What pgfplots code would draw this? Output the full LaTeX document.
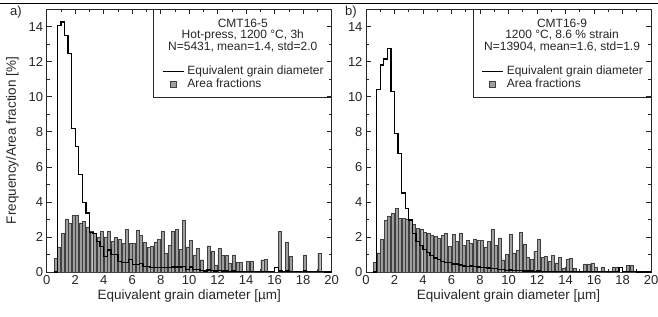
\documentclass[border=0pt]{standalone}
\usepackage{fontspec}
\setmainfont{Liberation Sans}
\usepackage{pgfplots}
\usepackage{pgfplotstable}
\pgfplotsset{compat=1.18}

\pgfplotstableread{
x area freq
0.50 0.76 0
0.75 1.43 14.05
1.00 2.19 14.25
1.25 3.03 13.5
1.50 2.76 12.45
1.75 3.22 8.2
2.00 3.22 7.15
2.25 2.80 5.55
2.50 2.90 3.98
2.75 2.57 3.37
3.00 2.35 2.25
3.25 2.20 2.2
3.50 2.00 1.75
3.75 2.30 1.45
4.00 2.00 0.9
4.25 2.30 1.25
4.50 1.75 1.0
4.75 2.00 1.0
5.00 1.85 0.6
5.25 1.65 0.55
5.50 2.45 0.55
5.75 1.65 0.7
6.00 1.65 0.42
6.25 2.40 0.42
6.50 2.10 0.48
6.75 1.70 0.33
7.00 1.40 0.33
7.25 1.45 0.24
7.50 1.72 0.24
7.75 1.85 0.24
8.00 2.33 0.24
8.25 1.05 0.24
8.50 1.52 0.24
8.75 2.33 0.28
9.00 2.42 0.28
9.25 1.28 0.28
9.50 2.97 0.33
9.75 1.43 0.13
10.00 1.79 0.28
10.25 0.93 0.13
10.50 1.33 0.15
10.75 0.70 0.10
11.00 0 0.05
11.25 1.50 0.12
11.50 1.20 0.08
11.75 0.40 0.05
12.00 1.33 0.08
12.25 0.93 0.05
12.50 0.93 0.05
12.75 0.50 0.03
13.00 0.98 0.05
13.25 0.55 0.03
13.50 0.55 0.03
13.75 0 0.02
14.00 0.62 0.03
14.25 0.62 0.03
14.50 0 0.02
14.75 0 0.02
15.00 0.70 0.03
15.25 0.72 0.03
15.50 0 0.02
15.75 0 0.02
16.00 0 0.25
16.25 2.30 0.05
16.50 0 0.02
16.75 1.72 0.05
17.00 0.88 0.03
17.25 0 0.02
17.50 0 0.02
17.75 0 0.02
18.00 0.97 0.05
18.25 0 0.02
18.50 0 0.02
18.75 0 0.02
19.00 1.05 0.04
19.25 0 0.02
19.50 0 0
19.75 0 0
20.00 0 0
}\dataA

\pgfplotstableread{
x area freq
0.50 0.55 0
0.75 1.10 10.4
1.00 1.85 11.8
1.25 2.95 12.15
1.50 3.20 12.75
1.75 3.35 10.3
2.00 3.65 7.9
2.25 3.05 6.75
2.50 3.05 4.5
2.75 3.00 3.62
3.00 2.95 2.97
3.25 2.70 2.2
3.50 2.50 1.75
3.75 2.45 1.5
4.00 2.25 1.3
4.25 2.20 1.1
4.50 2.10 0.95
4.75 2.05 0.8
5.00 1.90 0.7
5.25 2.10 0.6
5.50 2.20 0.55
5.75 1.47 0.55
6.00 2.13 0.45
6.25 1.75 0.45
6.50 2.23 0.4
6.75 1.52 0.35
7.00 1.81 0.3
7.25 1.66 0.35
7.50 1.89 0.3
7.75 1.81 0.28
8.00 1.80 0.25
8.25 1.43 0.25
8.50 1.75 0.22
8.75 2.46 0.2
9.00 1.52 0.2
9.25 1.95 0.15
9.50 0.70 0.15
9.75 1.00 0.1
10.00 2.15 0.12
10.25 1.09 0.1
10.50 1.24 0.08
10.75 2.27 0.1
11.00 1.60 0.06
11.25 0.84 0.05
11.50 0.75 0.05
11.75 1.16 0.04
12.00 1.88 0.05
12.25 0.84 0.03
12.50 0.90 0.03
12.75 0.61 0.03
13.00 0.93 0.03
13.25 0.52 0.03
13.50 0.84 0.03
13.75 0.23 0.03
14.00 0.75 0.03
14.25 0.78 0.03
14.50 0.23 0.02
14.75 0 0.02
15.00 0 0.02
15.25 0.46 0.02
15.50 0.46 0.02
15.75 0.52 0.02
16.00 0.29 0.02
16.25 0 0.02
16.50 0.29 0.02
16.75 0 0.02
17.00 0 0.02
17.25 0.29 0.02
17.50 0.29 0.02
17.75 0 0.25
18.00 0 0.02
18.25 0.36 0.02
18.50 0.36 0.02
18.75 0 0.02
19.00 0 0
19.25 0 0
19.50 0 0
19.75 0 0
20.00 0 0
}\dataB

\pgfplotsset{
  histax/.style={
    scale only axis, width=285pt, height=263pt,
    xmin=0, xmax=20, ymin=0, ymax=15,
    xtick={0,2,...,20}, ytick={0,2,...,14},
    minor x tick num=1, minor y tick num=1,
    tick align=inside, major tick length=5pt, minor tick length=3pt,
    axis line style={line width=0.9pt, black!85},
    every tick/.style={black!85, line width=0.6pt},
    tick label style={font=\fontsize{13}{15}\selectfont, text=black!85},
    /pgf/number format/assume math mode=true,
    xlabel={Equivalent grain diameter [µm]},
    xlabel style={font=\fontsize{13.5}{15}\selectfont, text=black!85, at={(axis description cs:0.5,-0.09)}, anchor=center},
    legend style={at={(rel axis cs:0.405,0.787)}, anchor=north west, draw=none, fill=none,
      inner sep=0pt, outer sep=0pt, font=\fontsize{12}{13}\selectfont, text=black!85,
      nodes={inner sep=1pt, text height=8.5pt, text depth=2.5pt}, row sep=0pt,
      /tikz/every odd column/.style={column sep=2pt}},
    legend cell align=left,
  },
  barsty/.style={ybar, bar width=0.21, fill=black!38, draw=black!75, line width=0.4pt, forget plot},
  stepsty/.style={const plot mark left, black, line width=1.35pt, no marks,
    legend image code/.code={\draw[line width=1.35pt] (0pt,0pt) -- (21pt,0pt);}},
}

\begin{document}
\begin{tikzpicture}
\path[use as bounding box] (0pt,0pt) rectangle (658pt,316pt);
\draw[line width=1.5pt] (0pt,312.7pt) -- (658pt,312.7pt);
\node[font=\fontsize{13}{14}\selectfont, text=black!85] at (16pt,304pt) {a)};
\node[font=\fontsize{13}{14}\selectfont, text=black!85] at (351pt,304pt) {b)};

\begin{axis}[histax, at={(46.7pt,44pt)}, anchor=south west,
  ylabel={Frequency/Area fraction [\%]},
  ylabel style={font=\fontsize{13.5}{15}\selectfont, text=black!85, at={(axis description cs:-0.12,0.5)}, anchor=center}]
  \addplot[barsty] table[x expr=\thisrow{x}+0.125, y=area] {\dataA};
  \addplot[stepsty] table[x=x, y=freq] {\dataA};
  \addlegendentry{Equivalent grain diameter}
  \addlegendimage{legend image code/.code={\draw[fill=black!38, draw=black!75, line width=0.4pt] (7pt,-3pt) rectangle (13pt,3pt);}}
  \addlegendentry{Area fractions}
  \draw[line width=0.9pt, black!85] (rel axis cs:0.376,0.665) rectangle (rel axis cs:1,1);
  \node[align=center, font=\fontsize{12}{11.5}\selectfont, text=black!85] at (rel axis cs:0.688,0.90)
    {CMT16-5\\Hot-press, 1200 °C, 3h\\N=5431, mean=1.4, std=2.0};
\end{axis}

\begin{axis}[histax, at={(366pt,44pt)}, anchor=south west]
  \addplot[barsty] table[x expr=\thisrow{x}+0.125, y=area] {\dataB};
  \addplot[stepsty] table[x=x, y=freq] {\dataB};
  \addlegendentry{Equivalent grain diameter}
  \addlegendimage{legend image code/.code={\draw[fill=black!38, draw=black!75, line width=0.4pt] (7pt,-3pt) rectangle (13pt,3pt);}}
  \addlegendentry{Area fractions}
  \draw[line width=0.9pt, black!85] (rel axis cs:0.378,0.665) rectangle (rel axis cs:1,1);
  \node[align=center, font=\fontsize{12}{11.5}\selectfont, text=black!85] at (rel axis cs:0.688,0.90)
    {CMT16-9\\1200 °C, 8.6 \% strain\\N=13904, mean=1.6, std=1.9};
\end{axis}
\end{tikzpicture}
\end{document}
